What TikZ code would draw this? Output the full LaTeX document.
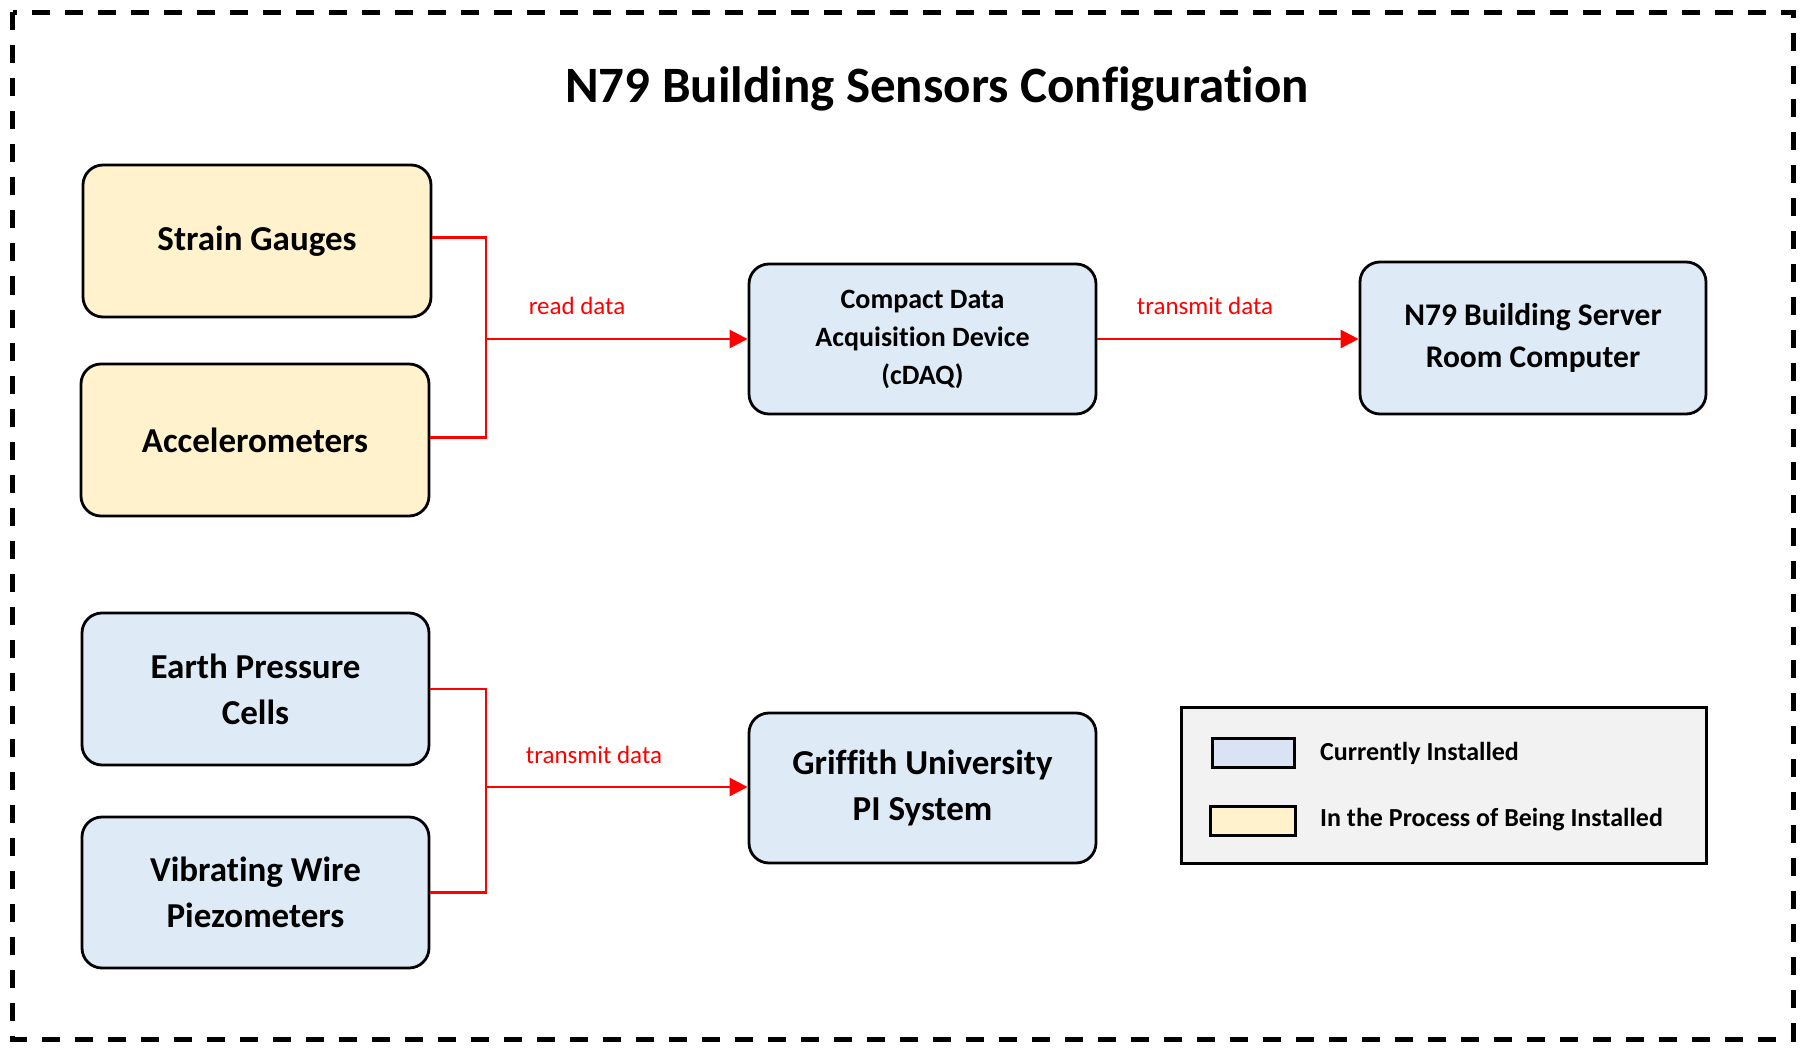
\documentclass[tikz,border=0pt]{standalone}
\usepackage{fontspec}
\setmainfont{Carlito}[Ligatures=NoCommon]
\usetikzlibrary{arrows.meta}
\definecolor{boxblue}{HTML}{DEEBF7}
\definecolor{swblue}{HTML}{DAE3F3}
\definecolor{boxyellow}{HTML}{FFF2CC}
\definecolor{legendgray}{HTML}{F2F2F2}
\definecolor{linkred}{HTML}{FF0000}
\tikzset{
  sensor/.style={draw=black, line width=2.8pt, rounded corners=20pt, align=center,
    font=\fontsize{35}{46}\selectfont\bfseries, inner sep=0pt},
  installed/.style={sensor, fill=boxblue},
  pending/.style={sensor, fill=boxyellow},
  link/.style={draw=linkred, line width=2.6pt},
  linkarrow/.style={link, -{Triangle[length=18pt,width=18pt]}},
  linklabel/.style={text=linkred, font=\fontsize{25}{30}\selectfont, inner sep=0pt},
  swatch/.style={draw=black, line width=3pt, inner sep=0pt},
  legendtext/.style={font=\fontsize{26}{31}\selectfont\bfseries, anchor=west, inner sep=0pt}
}
\begin{document}
\begin{tikzpicture}[x=1pt, y=-1pt]
\useasboundingbox (0,0) rectangle (1805,1051);
\draw[line width=5pt, dash pattern=on 18pt off 15pt] (12.5,12.5) rectangle (1793,1039);

\node[font=\fontsize{51}{61}\selectfont\bfseries, inner sep=0pt] (title) at (937,89) {N79 Building Sensors Configuration};

\node[pending, minimum width=348pt, minimum height=152pt] (strain) at (257,241) {Strain Gauges};
\node[pending, minimum width=348pt, minimum height=152pt] (accel) at (255,440) {Accelerometers};
\node[installed, minimum width=347pt, minimum height=152pt] (earth) at (255.5,689) {Earth Pressure\\Cells};
\node[installed, minimum width=347pt, minimum height=151pt] (vib) at (255.5,892.5) {Vibrating Wire\\Piezometers};

\node[installed, minimum width=347pt, minimum height=150pt, font=\fontsize{28}{38}\selectfont\bfseries] (cdaq) at (922.5,339) {Compact Data\\Acquisition Device\\(cDAQ)};
\node[installed, minimum width=346pt, minimum height=152pt, font=\fontsize{31.5}{42}\selectfont\bfseries] (server) at (1533,338) {N79 Building Server\\Room Computer};
\node[installed, minimum width=347pt, minimum height=150pt] (griffith) at (922.5,788) {Griffith University\\PI System};

\coordinate (j1) at (486,339);
\coordinate (j2) at (486,787);
\draw[link] ([yshift=3.5pt]strain.east) -| (j1) |- ([yshift=2.5pt]accel.east);
\draw[linkarrow] (j1) -- (cdaq.west);
\draw[linkarrow] (cdaq.east) -- (cdaq.east -| server.west);
\draw[link] (earth.east) -| (j2) |- (vib.east);
\draw[linkarrow] (j2) -- (j2 -| griffith.west);

\node[linklabel] (lread) at (577,306) {read data};
\node[linklabel] (ltrans1) at (1205,306) {transmit data};
\node[linklabel] (ltrans2) at (594,755) {transmit data};

\node[draw=black, line width=3pt, fill=legendgray, minimum width=525pt, minimum height=156pt, inner sep=0pt] (legend) at (1443.5,785) {};
\node[swatch, fill=swblue, minimum width=82pt, minimum height=29pt] (sw1) at (1253,752.5) {};
\node[swatch, fill=boxyellow, minimum width=85pt, minimum height=29pt] (sw2) at (1252.5,820.5) {};
\node[legendtext] (lt1) at (1320,753) {Currently Installed};
\node[legendtext] (lt2) at (1320,820) {In the Process of Being Installed};
\end{tikzpicture}
\end{document}
